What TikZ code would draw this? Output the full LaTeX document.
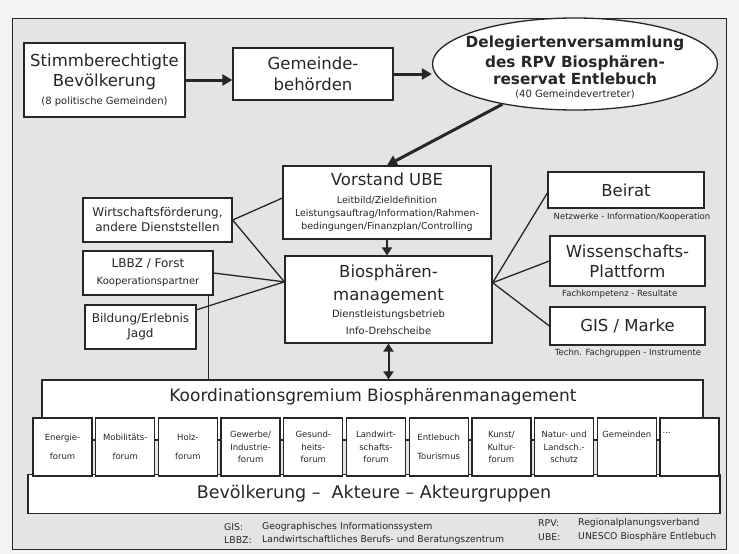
\documentclass[tikz,border=0pt]{standalone}
\usepackage{fontspec}
\setmainfont{DejaVu Sans}
\usetikzlibrary{shapes.geometric,calc,arrows.meta}
\definecolor{bg}{HTML}{E4E4E4}
\definecolor{pagebg}{HTML}{F3F3F3}
\definecolor{ink}{HTML}{262626}
\newcommand\szA{\fontsize{16.5}{20}\selectfont}
\newcommand\szB{\fontsize{12}{15}\selectfont}
\newcommand\szC{\fontsize{10}{13}\selectfont}
\newcommand\szD{\fontsize{9.5}{12.5}\selectfont}
\newcommand\szE{\fontsize{8.5}{12.5}\selectfont}
\newcommand\szL{\fontsize{8.5}{11}\selectfont}
\newcommand\szG{\fontsize{9.3}{11}\selectfont}
\begin{document}
\begin{tikzpicture}[x=1pt,y=-1pt,
  box/.style={draw=ink, line width=1.3pt, fill=white, inner sep=0pt, align=center, text=ink},
  forum/.style={box, minimum width=59pt, minimum height=58pt, font=\szE},
  link/.style={draw=ink, line width=1.3pt},
  bigarrow/.style={draw=ink, line width=3pt, -{Triangle[length=10pt,width=11pt]}},
  midarrow/.style={draw=ink, line width=2pt, -{Triangle[length=8pt,width=10pt]}},
  dblarrow/.style={draw=ink, line width=2pt, {Triangle[length=8pt,width=10pt]}-{Triangle[length=8pt,width=10pt]}},
  note/.style={text=ink, inner sep=0pt},
]
\fill[pagebg] (0,0) rectangle (739,554);
\useasboundingbox (0,0) rectangle (739,554);
\draw[ink, line width=1pt, fill=bg] (12,18) rectangle (726,549);

% top row
\node[box, minimum width=161pt, minimum height=74pt, font=\fontsize{10}{20}\selectfont] (stimm) at (104.5,80)
  {{\szA Stimmberechtigte}\\{\szA Bevölkerung}\\[-2pt]{\szC (8 politische Gemeinden)}};
\node[box, minimum width=160pt, minimum height=52pt, font=\fontsize{16.5}{21}\selectfont] (gem) at (313,74)
  {Gemeinde-\\behörden};
\node[ellipse, draw=ink, line width=1.3pt, fill=white, minimum width=285pt, minimum height=92pt,
  inner sep=0pt] (dele) at (575,64) {};
\node[note, align=center, font=\fontsize{15.3}{19}\bfseries] (deletxt) at (575,67)
  {Delegiertenversammlung\\[1pt]des RPV Biosphären-\\[-2pt]reservat Entlebuch\\[-6pt]{\mdseries\szC (40 Gemeindevertreter)}};

% middle column
\node[box, minimum width=208pt, minimum height=73pt, font=\fontsize{9.5}{13}\selectfont] (vor) at (387,202.5)
  {{\szA Vorstand UBE}\\[5pt]Leitbild/Zieldefinition\\Leistungsauftrag/Information/Rahmen-\\bedingungen/Finanzplan/Controlling};
\node[box, minimum width=207pt, minimum height=87pt, font=\fontsize{10}{17}\selectfont] (bio) at (388.5,299.5)
  {{\szA Biosphären-}\\[6pt]{\szA management}\\Dienstleistungsbetrieb\\Info-Drehscheibe};

% left boxes
\node[box, minimum width=149pt, minimum height=44pt, font=\szB] (wirt) at (157.5,220)
  {Wirtschaftsförderung,\\andere Dienststellen};
\node[box, minimum width=130pt, minimum height=44pt, font=\fontsize{10}{17}\selectfont] (lbbz) at (148,273)
  {{\szB LBBZ / Forst}\\Kooperationspartner};
\node[box, minimum width=111pt, minimum height=44pt, font=\szB] (bild) at (140.5,327)
  {Bildung/Erlebnis\\Jagd};

% right boxes
\node[box, minimum width=156pt, minimum height=36pt, font=\szA] (beirat) at (626,190) {Beirat};
\node[box, minimum width=155pt, minimum height=50pt, font=\szA] (wiss) at (627.5,261) {Wissenschafts-\\Plattform};
\node[box, minimum width=155pt, minimum height=38pt, font=\szA] (gis) at (627.5,326) {GIS / Marke};
\node[note, font=\szL] (beiratsub) at (632,217) {Netzwerke - Information/Kooperation};
\node[note, font=\szL, anchor=west] (wisssub) at (562,294) {Fachkompetenz - Resultate};
\node[note, font=\szL] (gissub) at (628,353) {Techn. Fachgruppen - Instrumente};

% bottom area
\node[box, minimum width=661pt, minimum height=60pt] (koord) at (372.5,410) {};
\node[note, font=\fontsize{17}{20}\selectfont] (koordlbl) at (373,397) {Koordinationsgremium Biosphärenmanagement};
\node[box, minimum width=692pt, minimum height=39pt, font=\fontsize{17.5}{20}\selectfont] (bev) at (374,494)
  {Bevölkerung –~ Akteure – Akteurgruppen};

\foreach \i/\t in {0/{Energie-\\[6pt]forum}, 1/{Mobilitäts-\\[6pt]forum}, 2/{Holz-\\[6pt]forum},
  3/{Gewerbe/\\Industrie-\\forum}, 4/{Gesund-\\heits-\\forum}, 5/{Landwirt-\\schafts-\\forum},
  6/{Entlebuch\\[6pt]Tourismus}, 7/{Kunst/\\Kultur-\\forum}, 8/{Natur- und\\Landsch.-\\schutz},
  9/{Gemeinden\\[12pt]{}}, 10/{}}
  \node[forum] (f\i) at ({62.5+\i*62.7},447) {\t};
\node[note, font=\szE, anchor=west] (dots) at ($(f10.north west)+(3,16)$) {...};

% connectors
\draw[bigarrow] (stimm.east) -- (stimm.east -| gem.west);
\draw[bigarrow] (gem.east) -- (gem.east -| dele.west);
\draw[bigarrow] (dele.209) -- (vor.north);
\draw[midarrow] (vor.south) -- (vor.south |- bio.north);
\draw[dblarrow] (bio.south) -- (bio.south |- koord.north);

\coordinate (vorl) at ($(vor.north west)!0.44!(vor.south west)$);
\coordinate (biol) at ($(bio.north west)!0.30!(bio.south west)$);
\coordinate (bior) at ($(bio.north east)!0.31!(bio.south east)$);
\coordinate (bildr) at ($(bild.north east)!0.12!(bild.south east)$);
\coordinate (lbbzb) at ($(lbbz.south east)+(-5,0)$);

\draw[link] (wirt.east) -- (vorl);
\draw[link] (wirt.east) -- (biol);
\draw[link] (lbbz.east) -- (biol);
\draw[link] (bildr) -- (biol);
\draw[link] (lbbzb) -- (lbbzb |- koord.north);
\draw[link] (bior) -- ($(beirat.north west)!0.58!(beirat.south west)$);
\draw[link] (bior) -- (wiss.west);
\draw[link] (bior) -- (gis.west);

% legend
\node[note, font=\szG, anchor=west] (lg1) at (224,527) {GIS:};
\node[note, font=\szG, anchor=west] (lg1t) at (262,527) {Geographisches Informationssystem};
\node[note, font=\szG, anchor=west] (lg2) at (224,540) {LBBZ:};
\node[note, font=\szG, anchor=west] (lg2t) at (262,540) {Landwirtschaftliches Berufs- und Beratungszentrum};
\node[note, font=\szG, anchor=west] (lg3) at (538,523) {RPV:};
\node[note, font=\szG, anchor=west] (lg3t) at (578,523) {Regionalplanungsverband};
\node[note, font=\szG, anchor=west] (lg4) at (538,537) {UBE:};
\node[note, font=\szG, anchor=west] (lg4t) at (578,537) {UNESCO Biosphäre Entlebuch};
\end{tikzpicture}
\end{document}
